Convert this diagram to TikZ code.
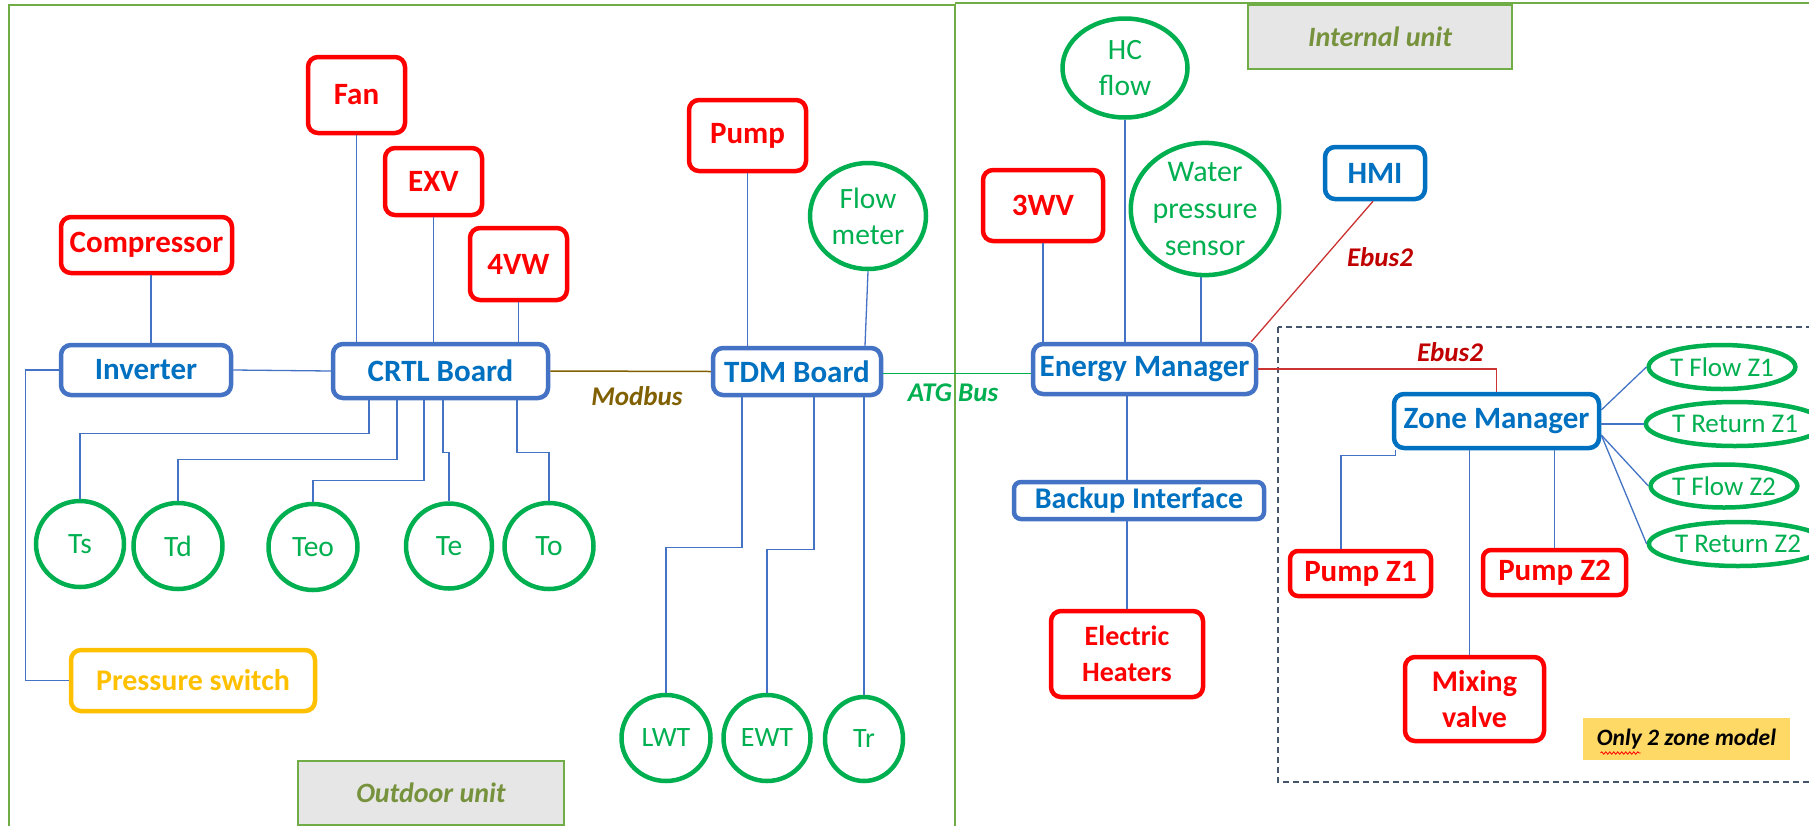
\documentclass[tikz,border=0pt]{standalone}
\usepackage{fontspec}
\setmainfont{Carlito}
\usetikzlibrary{shapes.geometric,calc,decorations.pathmorphing}
\definecolor{cRed}{RGB}{255,0,0}
\definecolor{cBlueB}{RGB}{68,114,196}
\definecolor{cBlueT}{RGB}{0,112,192}
\definecolor{cGreen}{RGB}{0,176,80}
\definecolor{cOrange}{RGB}{255,192,0}
\definecolor{cFrame}{RGB}{112,173,71}
\definecolor{cLbl}{RGB}{118,146,60}
\definecolor{cGold}{RGB}{128,96,0}
\definecolor{cEbus}{RGB}{192,0,0}
\definecolor{cEline}{RGB}{204,51,51}
\definecolor{cGray}{RGB}{231,230,230}
\definecolor{cDash}{RGB}{68,84,106}
\definecolor{cYel}{RGB}{255,217,102}
\begin{document}
\begin{tikzpicture}[x=1pt,y=-1pt,
 box/.style={rectangle, rounded corners=10pt, line width=4.5pt, inner sep=0pt, align=center, font=\bfseries\fontsize{31}{36}\selectfont},
 redbox/.style={box, draw=cRed, text=cRed},
 bluebox/.style={box, draw=cBlueB, text=cBlueT},
 hmibox/.style={box, draw=cBlueT, text=cBlueT},
 sensor/.style={ellipse, draw=cGreen, line width=4.5pt, text=cGreen, inner sep=0pt, align=center, font=\fontsize{29.5}{36}\selectfont},
 zsensor/.style={sensor, font=\fontsize{27}{30}\selectfont},
 conn/.style={draw=cBlueB, line width=1.3pt},
 frame/.style={draw=cFrame, line width=1.5pt},
 unitlbl/.style={draw=cFrame, fill=cGray, line width=1.5pt, text=cLbl, font=\bfseries\itshape\fontsize{28}{32}\selectfont, inner sep=0pt},
 buslbl/.style={font=\bfseries\itshape\fontsize{27}{30}\selectfont, inner sep=0pt}
]
\useasboundingbox (0,0) rectangle (1809,825);
\fill[white] (0,0) rectangle (1809,825);

% frames
\draw[frame] (9,830) -- (9,5) -- (955,5) -- (955,830);
\draw[frame] (955,3) -- (1815,3);
\draw[draw=cDash, line width=1.3pt, dash pattern=on 6pt off 4pt] (1278,327) rectangle (1830,782);

% unit labels
\node[unitlbl, minimum width=266, minimum height=64] (outlbl) at (431,793) {Outdoor unit};
\node[unitlbl, minimum width=264, minimum height=64] (inlbl) at (1380,37) {Internal unit};
\node[fill=cYel, inner sep=0pt, minimum width=207, minimum height=42, font=\bfseries\itshape\fontsize{23.5}{28}\selectfont] (only2) at (1686.5,739) {Only 2 zone model};
\draw[cRed, line width=0.8pt, decorate, decoration={snake, amplitude=1.2pt, segment length=4pt}] ($(only2.center)+(-86,14)$) -- ($(only2.center)+(-46,14)$);

% outdoor unit
\node[redbox, minimum width=97, minimum height=76] (fan) at (356.5,95) {Fan};
\node[redbox, minimum width=97, minimum height=67] (exv) at (433.5,181.5) {EXV};
\node[redbox, minimum width=97, minimum height=72] (vw) at (518.5,264) {4VW};
\node[redbox, minimum width=171, minimum height=56] (comp) at (146.5,245) {Compressor};
\node[bluebox, minimum width=170, minimum height=50] (inv) at (146,370) {Inverter};
\node[bluebox, minimum width=215, minimum height=54] (crtl) at (440.5,371) {CRTL Board};
\node[sensor, minimum width=88, minimum height=86] (ts) at (80,544) {Ts};
\node[sensor, minimum width=89, minimum height=86] (td) at (178,546) {Td};
\node[sensor, minimum width=89, minimum height=86] (teo) at (313,547) {Teo};
\node[sensor, minimum width=86, minimum height=85] (te) at (449,546) {Te};
\node[sensor, minimum width=89, minimum height=86] (to) at (549,546) {To};
\node[box, draw=cOrange, text=cOrange, font=\bfseries\fontsize{30}{34}\selectfont, minimum width=244, minimum height=61] (ps) at (193,680.5) {Pressure switch};
\node[redbox, minimum width=117, minimum height=71] (pump) at (747.5,135.5) {Pump};
\node[sensor, minimum width=116, minimum height=106] (flow) at (868,216) {Flow\\meter};
\node[bluebox, minimum width=168, minimum height=47] (tdm) at (797,371.5) {TDM Board};
\node[sensor, font=\fontsize{28}{32}\selectfont, minimum width=89, minimum height=86] (lwt) at (666,738) {LWT};
\node[sensor, font=\fontsize{28}{32}\selectfont, minimum width=87, minimum height=86] (ewt) at (767,738) {EWT};
\node[sensor, font=\fontsize{28}{32}\selectfont, minimum width=78, minimum height=84] (tr) at (864,739) {Tr};

% internal unit
\node[sensor, minimum width=125, minimum height=99] (hc) at (1125,68) {HC\\flow};
\node[redbox, minimum width=120, minimum height=71] (wv3) at (1043,205.5) {3WV};
\node[sensor, font=\fontsize{30}{37}\selectfont, minimum width=147, minimum height=125] (wps) at (1205,209) {Water\\pressure\\sensor};
\node[hmibox, minimum width=100, minimum height=52] (hmi) at (1375,173) {HMI};
\node[bluebox, minimum width=223, minimum height=50] (em) at (1144.5,369) {Energy Manager};
\node[bluebox, font=\bfseries\fontsize{30}{34}\selectfont, rounded corners=7pt, minimum width=250, minimum height=37] (bi) at (1139,500.5) {Backup Interface};
\node[redbox, font=\bfseries\fontsize{28}{36}\selectfont, minimum width=152, minimum height=86] (eh) at (1127,654) {Electric\\Heaters};
\node[hmibox, minimum width=205, minimum height=54] (zm) at (1496.5,421) {Zone Manager};
\node[zsensor, minimum width=139, minimum height=44] (tfz1) at (1722,367) {T Flow Z1};
\node[zsensor, minimum width=164, minimum height=44] (trz1) at (1735,424) {T Return Z1};
\node[zsensor, minimum width=137, minimum height=43] (tfz2) at (1724,486) {T Flow Z2};
\node[zsensor, minimum width=164, minimum height=44] (trz2) at (1738,544) {T Return Z2};
\node[redbox, rounded corners=8pt, minimum width=141, minimum height=45] (pz1) at (1360.5,573.5) {Pump Z1};
\node[redbox, rounded corners=8pt, minimum width=143, minimum height=45] (pz2) at (1554.5,572.5) {Pump Z2};
\node[redbox, font=\bfseries\fontsize{30}{36}\selectfont, minimum width=139, minimum height=84] (mix) at (1474.5,699) {Mixing\\valve};

% bus labels
\node[buslbl, text=cGold] (modbus) at (637,396) {Modbus};
\node[buslbl, text=cGreen] (atg) at (953,393) {ATG Bus};
\node[buslbl, text=cEbus] (ebus1) at (1380,257) {Ebus2};
\node[buslbl, text=cEbus] (ebus2) at (1450,352) {Ebus2};

% connectors outdoor
\draw[conn] (fan.south) -- (fan.south |- crtl.north);
\draw[conn] (exv.south) -- (exv.south |- crtl.north);
\draw[conn] (vw.south) -- (vw.south |- crtl.north);
\draw[conn] ([xshift=4.5pt]comp.south) -- ([xshift=4.5pt]comp.south |- inv.north);
\draw[conn] (inv.east) -- (crtl.west);
\draw[conn] (inv.west) -- ++(-33,0) |- (ps.west);
\draw[conn] ([xshift=-71.5pt]crtl.south) -- ++(0,33) -| (ts.north);
\draw[conn] ([xshift=-43.5pt]crtl.south) -- ++(0,59) -| (td.north);
\draw[conn] ([xshift=-16.5pt]crtl.south) -- ++(0,80) -| (teo.north);
\draw[conn] ([xshift=2.5pt]crtl.south) -- ++(0,52) -| (te.north);
\draw[conn] ([xshift=76.5pt]crtl.south) -- ++(0,52) -| (to.north);
\draw[draw=cGold, line width=1.5pt] (crtl.east) -- (tdm.west);
\draw[conn] (pump.south) -- (pump.south |- tdm.north);
\draw[conn] (flow.south) -- ([xshift=68pt]tdm.north);
\draw[conn] ([xshift=-55pt]tdm.south) -- ++(0,150) -| (lwt.north);
\draw[conn] ([xshift=17pt]tdm.south) -- ++(0,152) -| (ewt.north);
\draw[conn] (tr.north |- tdm.south) -- (tr.north);
\draw[draw=cGreen, line width=1.3pt] ([yshift=-2pt]tdm.east) -- ([yshift=-2pt]tdm.east -| em.west);

% connectors internal
\draw[conn] (wv3.south) -- (wv3.south |- em.north);
\draw[conn] (hc.south) -- (hc.south |- em.north);
\draw[conn] ([xshift=-4pt]wps.south) -- ([xshift=-4pt]wps.south |- em.north);
\draw[draw=cEline, line width=1.3pt] ([xshift=-2pt]hmi.south) -- ([xshift=-7pt]em.north east);
\draw[draw=cEline, line width=1.3pt] (em.east) -| (zm.north);
\draw[conn] (eh.north |- em.south) -- (eh.north |- bi.north);
\draw[conn] (eh.north |- bi.south) -- (eh.north);
\draw[conn] ([yshift=11pt]zm.east) -- (tfz1.west);
\draw[conn] ([yshift=-3pt]zm.east) -- (trz1.west);
\draw[conn] ([yshift=-14pt]zm.east) -- (tfz2.west);
\draw[conn] ([yshift=-14pt]zm.east) -- (trz2.west);
\draw[conn] ([xshift=4pt]zm.south west) -- ++(0,5) -| ([xshift=-19.5pt]pz1.north);
\draw[conn] ([xshift=-5pt]mix.north) -- ([xshift=-5pt]mix.north |- zm.south);
\draw[conn] (pz2.north) -- (pz2.north |- zm.south);
\end{tikzpicture}
\end{document}
